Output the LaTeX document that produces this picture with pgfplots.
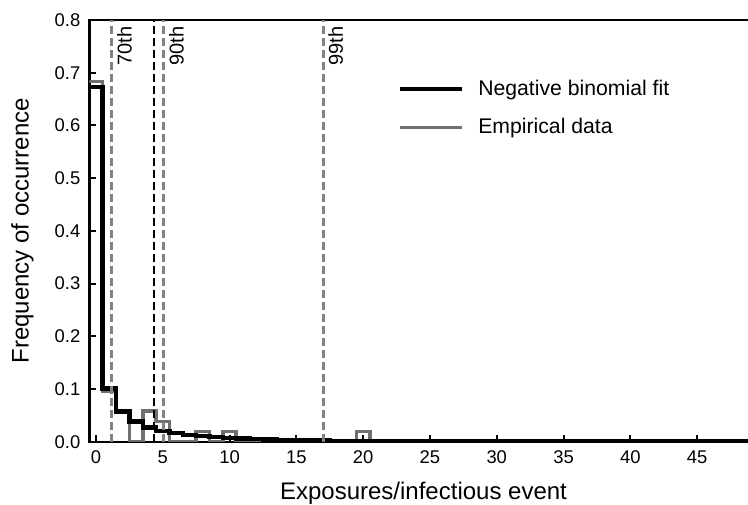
\documentclass[border=0pt]{standalone}
\usepackage{fontspec}
\setmainfont{Liberation Sans}
\usepackage{pgfplots}
\pgfplotsset{compat=1.18}
\definecolor{empgray}{RGB}{112,112,112}
\definecolor{dashgray}{RGB}{130,130,130}
\begin{document}
\begin{tikzpicture}
\begin{axis}[
  at={(0,0)}, anchor=south west,
  scale only axis, width=337.3pt, height=210.85pt,
  xmin=-0.5, xmax=50, ymin=0, ymax=0.8,
  xtick={0,5,...,45}, ytick={0,0.1,0.2,0.3,0.4,0.5,0.6,0.7,0.8},
  xtick pos=lower, ytick pos=left,
  tick align=inside, major tick length=3.5pt,
  axis line style={line width=1.2pt},
  tick style={line width=1pt, black},
  /pgf/number format/assume math mode=true,
  ticklabel style={font=\fontsize{9.2}{11}\selectfont},
  yticklabel style={/pgf/number format/fixed, /pgf/number format/fixed zerofill, /pgf/number format/precision=1, xshift=-1pt},
  xticklabel style={yshift=-1pt},
  label style={font=\fontsize{12}{14}\selectfont},
  xlabel={Exposures/infectious event},
  ylabel={Frequency of occurrence},
  xlabel style={at={(axis description cs:0.4954,-0.1217)}, anchor=center},
  ylabel style={at={(axis description cs:-0.0993,0.5)}, anchor=center},
  legend style={draw=none, fill=none, at={(axis description cs:0.4480,0.878)}, anchor=north west,
    font=\fontsize{10.6}{12}\selectfont, row sep=6pt, column sep=5pt, legend cell align=left,
    nodes={inner sep=2pt}},
  legend image code/.code={\draw[#1] (0pt,0pt) -- (31pt,0pt);},
  reverse legend,
]
% Empirical data (histogram outline)
\addplot[empgray, line width=1.8pt, const plot, line join=miter] coordinates {
(-0.5,0.683) (0.5,0.096) (1.5,0.058) (2.5,0) (3.5,0.058) (4.5,0.038) (5.5,0)
(7.5,0.019) (8.5,0) (9.5,0.019) (10.5,0) (19.5,0.019) (20.5,0) (50,0)};
\addlegendentry{Empirical data}
% Negative binomial fit
\addplot[black, line width=2.2pt, const plot, line join=miter] coordinates {
(-0.5,0.673) (0.5,0.101) (1.5,0.057) (2.5,0.038) (3.5,0.027) (4.5,0.020) (5.5,0.016)
(6.5,0.013) (7.5,0.011) (8.5,0.009) (9.5,0.0075) (10.5,0.0063) (11.5,0.0053)
(12.5,0.0045) (13.5,0.0038) (14.5,0.0032) (15.5,0.0027) (16.5,0.0023) (17.5,0.0019)
(18.5,0.0016) (19.5,0.0014) (20.5,0.0012) (21.5,0.0010) (22.5,0.00085) (23.5,0.0007)
(24.5,0.0006) (25.5,0.0005) (26.5,0.0004) (27.5,0.00035) (28.5,0.0003) (29.5,0.00025)
(30.5,0.0002) (32.5,0.00015) (34.5,0.0001) (37.5,0.00005) (50,0.00005)};
\addlegendentry{Negative binomial fit}
% percentile / mean lines
\addplot[dashgray, line width=1.5pt, dash pattern=on 4pt off 2pt, forget plot] coordinates {(1.17,0) (1.17,0.8)};
\addplot[black, line width=1.1pt, dash pattern=on 4pt off 2pt, forget plot] coordinates {(4.33,0) (4.33,0.8)};
\addplot[dashgray, line width=1.5pt, dash pattern=on 4pt off 2pt, forget plot] coordinates {(5.08,0) (5.08,0.8)};
\addplot[dashgray, line width=1.5pt, dash pattern=on 4pt off 2pt, forget plot] coordinates {(17.0,0) (17.0,0.8)};
\node[rotate=90, anchor=north east, inner sep=0pt, font=\fontsize{10}{11}\selectfont] at ([xshift=2.5pt,yshift=-3pt]axis cs:1.17,0.8) {70th};
\node[rotate=90, anchor=north east, inner sep=0pt, font=\fontsize{10}{11}\selectfont] at ([xshift=2.5pt,yshift=-3pt]axis cs:5.08,0.8) {90th};
\node[rotate=90, anchor=north east, inner sep=0pt, font=\fontsize{10}{11}\selectfont] at ([xshift=2.5pt,yshift=-3pt]axis cs:17.0,0.8) {99th};
\end{axis}
\pgfresetboundingbox
\useasboundingbox (-44.65pt,-31.15pt) rectangle (329.35pt,220.85pt);
\end{tikzpicture}
\end{document}
